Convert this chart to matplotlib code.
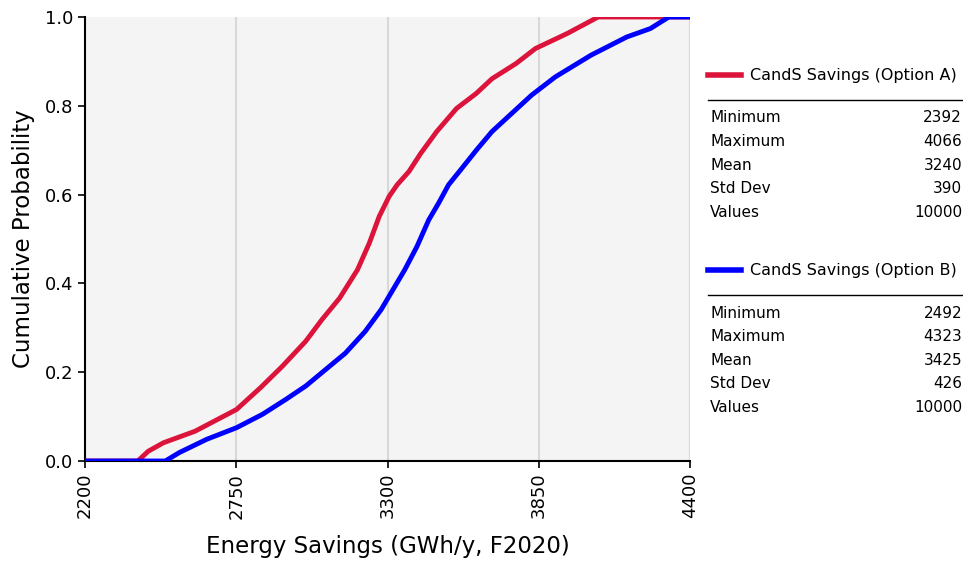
import matplotlib
matplotlib.use("Agg")
from matplotlib import pyplot as plt
from matplotlib.lines import Line2D

# cumulative curves (value, probability)
a_x = [2200, 2392, 2430, 2485, 2600, 2751, 2838, 2917, 3003, 3061, 3126, 3191, 3234, 3270,
       3306, 3335, 3378, 3421, 3479, 3551, 3623, 3680, 3767, 3838, 3954, 4066, 4400]
a_p = [0.0, 0.0, 0.022, 0.041, 0.067, 0.116, 0.165, 0.213, 0.270, 0.318, 0.367, 0.431, 0.491, 0.551,
       0.596, 0.622, 0.652, 0.693, 0.742, 0.794, 0.828, 0.861, 0.895, 0.929, 0.963, 1.0, 1.0]

b_x = [2200, 2492, 2543, 2643, 2751, 2845, 2931, 3003, 3075, 3147, 3219, 3277, 3320, 3363,
       3407, 3450, 3486, 3522, 3565, 3623, 3680, 3752, 3824, 3910, 4040, 4170, 4256, 4323, 4400]
b_p = [0.0, 0.0, 0.019, 0.049, 0.075, 0.105, 0.139, 0.169, 0.206, 0.243, 0.292, 0.341, 0.386, 0.431,
       0.483, 0.543, 0.581, 0.622, 0.655, 0.700, 0.742, 0.783, 0.824, 0.865, 0.914, 0.955, 0.974, 1.0, 1.0]

names = ["CandS Savings (Option A)", "CandS Savings (Option B)"]
colors = ["#DC143C", "#0000FF"]
stat_names = ["Minimum", "Maximum", "Mean", "Std Dev", "Values"]
stats_a = ["2392", "4066", "3240", "390", "10000"]
stats_b = ["2492", "4323", "3425", "426", "10000"]

xticks = [2200, 2750, 3300, 3850, 4400]
yticks = [0.0, 0.2, 0.4, 0.6, 0.8, 1.0]

W, H = 963, 566
fig = plt.figure(figsize=(W / 100, H / 100), dpi=100)
ax = fig.add_axes([85 / W, 1 - 461 / H, (690 - 85) / W, (461 - 17) / H])
ax.set_facecolor("#F4F4F4")

ax.plot(a_x, a_p, color=colors[0], lw=3.5, solid_capstyle="butt", solid_joinstyle="round", zorder=3)
ax.plot(b_x, b_p, color=colors[1], lw=3.5, solid_capstyle="butt", solid_joinstyle="round", zorder=4)

ax.set_xlim(2200, 4400)
ax.set_ylim(0, 1.0)
ax.set_xticks(xticks)
ax.set_yticks(yticks)
ax.set_xticklabels([str(t) for t in xticks], rotation=90)
ax.set_yticklabels(["%.1f" % t for t in yticks])
ax.tick_params(labelsize=13, length=5, width=1.2, color="black")
ax.grid(axis="x", color="#D8D8D8", lw=1.5)
ax.set_axisbelow(True)
for s in ["top", "right"]:
    ax.spines[s].set_visible(False)
for s in ["left", "bottom"]:
    ax.spines[s].set_linewidth(1.5)

ax.set_xlabel("Energy Savings (GWh/y, F2020)", fontsize=16.5, labelpad=12)
ax.set_ylabel("Cumulative Probability", fontsize=16.5, labelpad=7)

# legend / stats panel on the right
def panel(top, name, col, vals):
    y0 = 1 - top / H
    fig.add_artist(Line2D([708 / W, 741 / W], [y0, y0], color=col, lw=4,
                          transform=fig.transFigure))
    fig.text(750 / W, y0, name, fontsize=11.5, va="center", ha="left")
    yr = 1 - (top + 25) / H
    fig.add_artist(Line2D([708 / W, 963 / W], [yr, yr], color="black", lw=1,
                          transform=fig.transFigure))
    for i in range(len(stat_names)):
        yy = 1 - (top + 43 + i * 23.6) / H
        fig.text(710 / W, yy, stat_names[i], fontsize=11, va="center", ha="left")
        fig.text(962 / W, yy, vals[i], fontsize=11, va="center", ha="right")

panel(75, names[0], colors[0], stats_a)
panel(270, names[1], colors[1], stats_b)

fig.savefig("out.png", dpi=100)
